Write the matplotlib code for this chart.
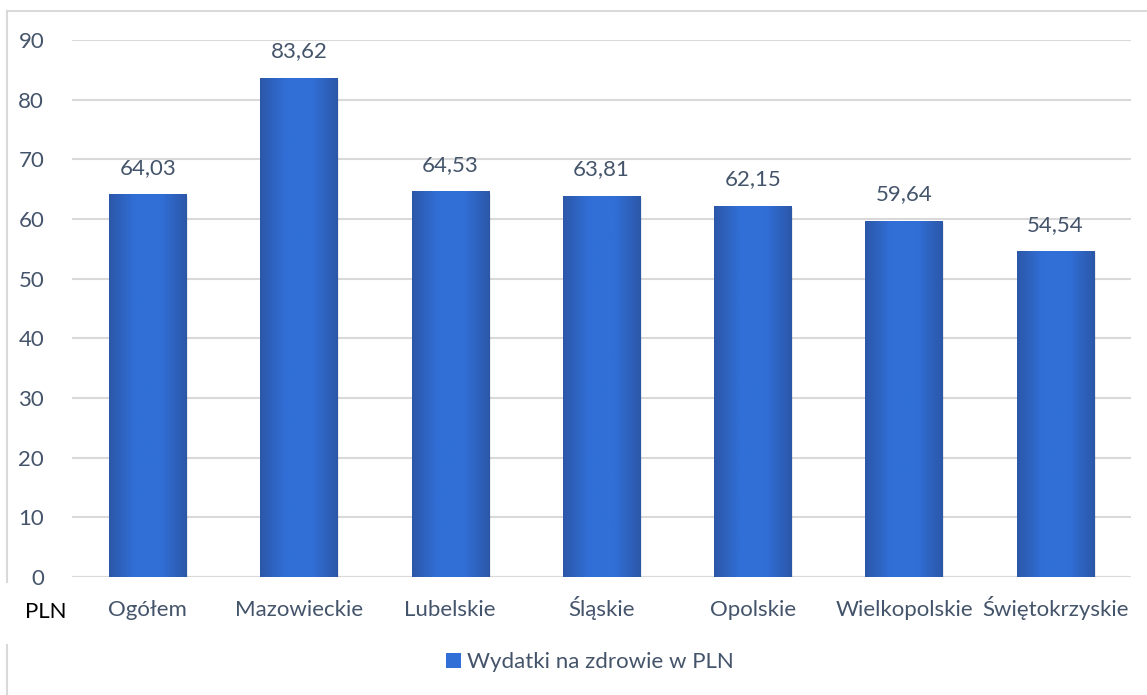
import numpy as np
import matplotlib
matplotlib.use("Agg")
import matplotlib.pyplot as plt
from matplotlib.colors import LinearSegmentedColormap
from matplotlib.lines import Line2D
from matplotlib.patches import Rectangle

categories = ["Ogółem", "Mazowieckie", "Lubelskie", "Śląskie", "Opolskie", "Wielkopolskie", "Świętokrzyskie"]
values = [64.03, 83.62, 64.53, 63.81, 62.15, 59.64, 54.54]
labels = ["64,03", "83,62", "64,53", "63,81", "62,15", "59,64", "54,54"]
series_name = "Wydatki na zdrowie w PLN"
yticks = [0, 10, 20, 30, 40, 50, 60, 70, 80, 90]

plt.rcParams['font.family'] = ['Lato', 'DejaVu Sans']
txt = "#44546A"
fs = 16
W, H = 1147, 695
fig = plt.figure(figsize=(W / 100, H / 100), dpi=100)
ax = fig.add_axes([72 / W, 1 - 577 / H, (1131 - 72) / W, (577 - 40) / H])

cmap = LinearSegmentedColormap.from_list("g", ["#2C57A8", "#316FD7", "#316FD7", "#2C57A8"])
grad = np.linspace(0, 1, 256).reshape(1, -1)
bw = 0.51
x = np.arange(len(categories))
for xi, v, lab in zip(x, values, labels):
    ax.add_patch(Rectangle((xi - bw / 2 + 0.012, 0), bw, v - 0.3, facecolor="#000000", alpha=0.08,
                           edgecolor="none", zorder=2))
    ax.imshow(grad, extent=(xi - bw / 2, xi + bw / 2, 0, v), aspect="auto", cmap=cmap, zorder=3,
              interpolation="bilinear")
    ax.text(xi, v + 2.8, lab, ha="center", va="bottom", fontsize=fs, color=txt)

ax.set_xlim(-0.5, len(categories) - 0.5)
ax.set_ylim(0, 90)
ax.set_yticks(yticks)
ax.set_yticklabels([str(t) for t in yticks], fontsize=fs, color=txt)
ax.set_xticks(x)
ax.set_xticklabels(categories, fontsize=fs, color=txt, va="baseline")
ax.tick_params(axis="both", length=0)
ax.tick_params(axis="y", pad=20)
ax.tick_params(axis="x", pad=28)
ax.grid(axis="y", color="#D9D9D9", lw=1.5, zorder=0)
ax.set_axisbelow(True)
for s in ax.spines.values():
    s.set_visible(False)
ax.axhline(0, color="#D9D9D9", lw=1.5, zorder=1)

fig.text(25 / W, 1 - 618 / H, "PLN", fontsize=fs, color="black", va="baseline", ha="left")

# frame
fig.add_artist(Line2D([7 / W, 1.0], [1 - 11 / H, 1 - 11 / H], color="#D9D9D9", lw=1.5))
fig.add_artist(Line2D([7 / W, 7 / W], [1 - 11 / H, 1 - 582 / H], color="#D9D9D9", lw=1.5))
fig.add_artist(Line2D([7 / W, 7 / W], [1 - 645 / H, 0], color="#D9D9D9", lw=1.5))

handle = Rectangle((0, 0), 1, 1, facecolor="#316FD7", edgecolor="none")
fig.legend([handle], [series_name], loc="center", bbox_to_anchor=(590 / W, 1 - 662 / H),
           frameon=False, fontsize=fs, labelcolor=txt, handlelength=0.65, handleheight=0.65,
           handletextpad=0.3)

fig.savefig("out.png", dpi=100)
